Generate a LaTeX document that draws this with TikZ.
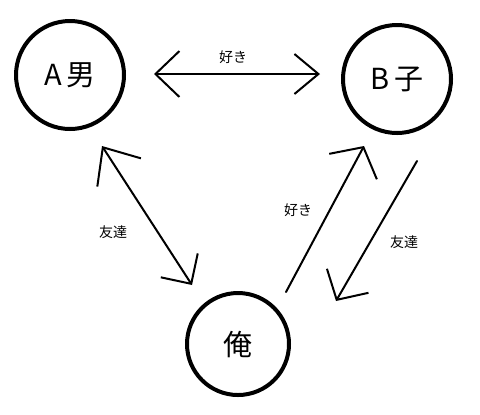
\documentclass[tikz,border=0pt]{standalone}
\usepackage{fontspec}
\setmainfont{Noto Sans CJK JP}
\usetikzlibrary{arrows.meta}
\begin{document}
\begin{tikzpicture}[x=0.5pt,y=-0.5pt,line join=round,line cap=round,
	person/.style={draw,circle,line width=2pt,minimum size=54pt,inner sep=0pt,font=\fontsize{14.5pt}{16pt}\selectfont},
	rel/.style={line width=1pt,arrows={-Straight Barb[length=11pt,width=24pt,line width=1pt]}},
	lbl/.style={font=\fontsize{7pt}{8pt}\selectfont}]
	\useasboundingbox (0,0) rectangle (480,414);
	\node[person] (A) at (70,75) {A\,男};
	\node[person] (B) at (397,79) {B\,子};
	\node[person,minimum size=51pt] (me) at (238,344) {俺};
	% arrow ends
	\coordinate (ab1) at (154,74);
	\coordinate (ab2) at (320,74);
	\coordinate (am1) at (102,146);
	\coordinate (am2) at (192,285);
	\coordinate (mb1) at (286,292);
	\coordinate (mb2) at (364,146);
	\coordinate (bm1) at (417,161);
	\coordinate (bm2) at (336,301);
	\draw[rel,arrows={Straight Barb[length=12pt,width=23pt,line width=1pt]-Straight Barb[length=12pt,width=20pt,line width=1pt]}] (ab1)--(ab2);
	\draw[rel,arrows={Straight Barb[length=15pt,width=26pt,line width=1pt]-Straight Barb[length=11pt,width=22pt,line width=1pt]}] (am1)--(am2);
	\draw[rel,arrows={-Straight Barb[length=11pt,width=27pt,line width=1pt]}] (mb1)--(mb2);
	\draw[rel] (bm1)--(bm2);
	\node[lbl] (l1) at (233,57) {好き};
	\node[lbl] (l2) at (113,232) {友達};
	\node[lbl] (l3) at (298,210) {好き};
	\node[lbl] (l4) at (404,242) {友達};
\end{tikzpicture}
\end{document}
